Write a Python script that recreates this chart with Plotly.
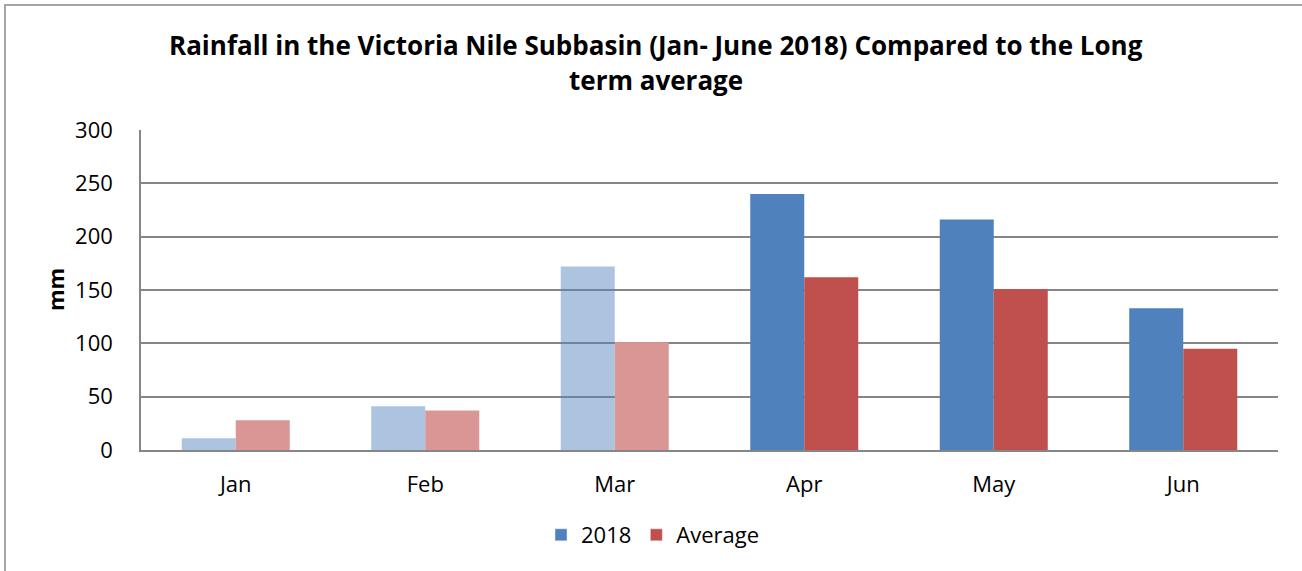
import plotly.graph_objects as go

months = ["Jan", "Feb", "Mar", "Apr", "May", "Jun"]
rain_2018 = [11, 41, 172, 240, 216, 133]
rain_avg = [28, 37, 101, 162, 151, 95]
y_ticks = [0, 50, 100, 150, 200, 250, 300]

W, H = 1302, 571
L, R, T, B = 141, 24, 130, 121
FONT = "Open Sans"

blue_full, blue_light = "#4F81BD", "rgba(79,129,189,0.47)"
red_full, red_light = "#C0504D", "#DA9694"
n_light = 3
blue_cols = [blue_light if i < n_light else blue_full for i in range(len(months))]
red_cols = [red_light if i < n_light else red_full for i in range(len(months))]

fig = go.Figure()
fig.add_trace(go.Bar(x=months, y=rain_2018, name="2018", showlegend=False,
                     marker=dict(color=blue_cols, line=dict(width=0))))
fig.add_trace(go.Bar(x=months, y=rain_avg, name="Average", showlegend=False,
                     marker=dict(color=red_cols, line=dict(width=0))))
# legend entries (on a hidden axis so they do not take bar slots)
fig.add_trace(go.Bar(x=[months[0]], y=[None], name="2018", marker_color=blue_full,
                     xaxis="x2", yaxis="y2"))
fig.add_trace(go.Bar(x=[months[0]], y=[None], name="Average", marker_color=red_full,
                     xaxis="x2", yaxis="y2"))

def px_x(p):
    return (p - L) / (W - L - R)

def px_y(p):
    return (H - B - p) / (H - T - B)

fig.update_layout(
    width=W, height=H,
    margin=dict(l=L, r=R, t=T, b=B, autoexpand=False),
    paper_bgcolor="white", plot_bgcolor="white",
    barmode="group", bargap=0.43, bargroupgap=0,
    font=dict(family=FONT, size=22, color="black"),
    showlegend=True,
    legend=dict(orientation="h", x=px_x(541), xanchor="left",
                y=px_y(535), yanchor="middle",
                font=dict(family=FONT, size=22, color="black"),
                itemwidth=30, traceorder="normal"),
    xaxis=dict(showline=True, linecolor="#868686", linewidth=1.5,
               ticks="", tickfont=dict(family=FONT, size=22),
               ticklabelstandoff=14, showgrid=False, automargin=False),
    yaxis=dict(range=[0, 300], tickvals=y_ticks, showline=True,
               linecolor="#868686", linewidth=1.5,
               showgrid=True, gridcolor="#868686", gridwidth=1.5,
               ticks="", ticklabelstandoff=22, automargin=False,
               tickfont=dict(family=FONT, size=22), zeroline=False),
    xaxis2=dict(overlaying="x", visible=False, matches=None),
    yaxis2=dict(overlaying="y", visible=False, range=[0, 1]),
    annotations=[
        dict(text="<b>Rainfall in the Victoria Nile Subbasin (Jan- June 2018) Compared to the Long</b>",
             x=px_x(656), y=px_y(45), xref="paper", yref="paper",
             showarrow=False, font=dict(family=FONT, size=26, color="black"),
             xanchor="center", yanchor="middle"),
        dict(text="<b>term average</b>",
             x=px_x(656), y=px_y(80), xref="paper", yref="paper",
             showarrow=False, font=dict(family=FONT, size=26, color="black"),
             xanchor="center", yanchor="middle"),
        dict(text="<b>mm</b>", textangle=-90,
             x=px_x(55), y=px_y(290), xref="paper", yref="paper",
             showarrow=False, font=dict(family=FONT, size=22, color="black"),
             xanchor="center", yanchor="middle"),
    ],
    shapes=[dict(type="rect", xref="paper", yref="paper",
                 x0=px_x(5), x1=px_x(1320), y0=px_y(590), y1=px_y(5),
                 line=dict(color="#A6A6A6", width=2), layer="below")],
)

fig.write_html("out.html",
               config={"displayModeBar": False},
               post_script="document.body.style.margin='0';document.body.style.overflow='hidden';")
